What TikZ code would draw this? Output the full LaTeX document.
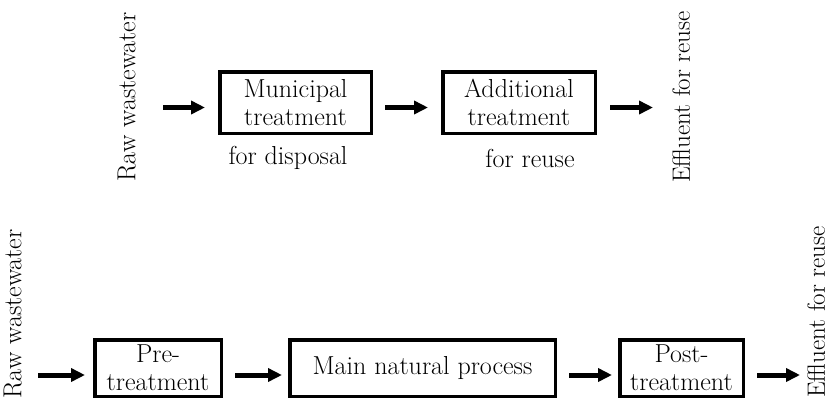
\documentclass[tikz,border=0pt]{standalone}
\usepackage{tikz}
\usetikzlibrary{positioning, arrows.meta}

\begin{document}
\begin{tikzpicture}[
    x=1pt, y=-1pt,
    font=\fontsize{26}{28}\selectfont,
    proc/.style={draw, line width=3.5pt, align=center, inner sep=2pt},
    vlbl/.style={rotate=90, inner sep=0pt},
    outlbl/.style={vlbl, font=\fontsize{25}{28}\selectfont},
    note/.style={inner sep=0pt},
    arr/.style={-{Triangle[length=14pt, width=13pt]}, line width=5pt},
]
\useasboundingbox (0,0) rectangle (834,402);

% upper chain
\node[vlbl, anchor=south] (raw1) at (136,97) {Raw wastewater};
\node[proc, minimum width=151.5pt, minimum height=61.5pt] (muni) at (295.5,102.5) {Municipal\\treatment};
\node[note] (disp) at (288,158) {for disposal};
\node[proc, minimum width=152.5pt, minimum height=61.5pt] (addt) at (519,102.5) {Additional\\treatment};
\node[note] (reuse) at (530,158) {for reuse};
\node[outlbl, anchor=north] (eff1) at (672,97) {Effluent for reuse};

% lower chain
\node[vlbl, anchor=south] (raw2) at (22,314) {Raw wastewater};
\node[proc, minimum width=126.5pt, minimum height=56.5pt] (pre) at (158,368) {Pre-\\treatment};
\node[proc, minimum width=265.5pt, minimum height=56.5pt] (main) at (422.5,368) {Main natural process};
\node[proc, minimum width=123.5pt, minimum height=56.5pt] (post) at (681.5,368) {Post-\\treatment};
\node[outlbl, anchor=north] (eff2) at (807,312) {Effluent for reuse};

% arrows, upper
\draw[arr, shorten <=27pt, shorten >=13pt] ([yshift=-5pt]raw1.south |- muni) -- ([yshift=-5pt]muni.west);
\draw[arr, shorten <=12pt, shorten >=13pt] ([yshift=-5pt]muni.east) -- ([yshift=-5pt]addt.west);
\draw[arr, shorten <=13pt, shorten >=19pt] ([yshift=-5pt]addt.east) -- ([yshift=-5pt]eff1.north |- addt);

% arrows, lower
\draw[arr, shorten <=16pt, shorten >=8pt] ([yshift=-7pt]raw2.south |- pre) -- ([yshift=-7pt]pre.west);
\foreach \a/\b in {pre/main, main/post}
  \draw[arr, shorten <=12pt, shorten >=6pt] ([yshift=-7pt]\a.east) -- ([yshift=-7pt]\b.west);
\draw[arr, shorten <=12pt, shorten >=7pt] ([yshift=-7pt]post.east) -- ([yshift=-7pt]eff2.north |- post);

\end{tikzpicture}
\end{document}
